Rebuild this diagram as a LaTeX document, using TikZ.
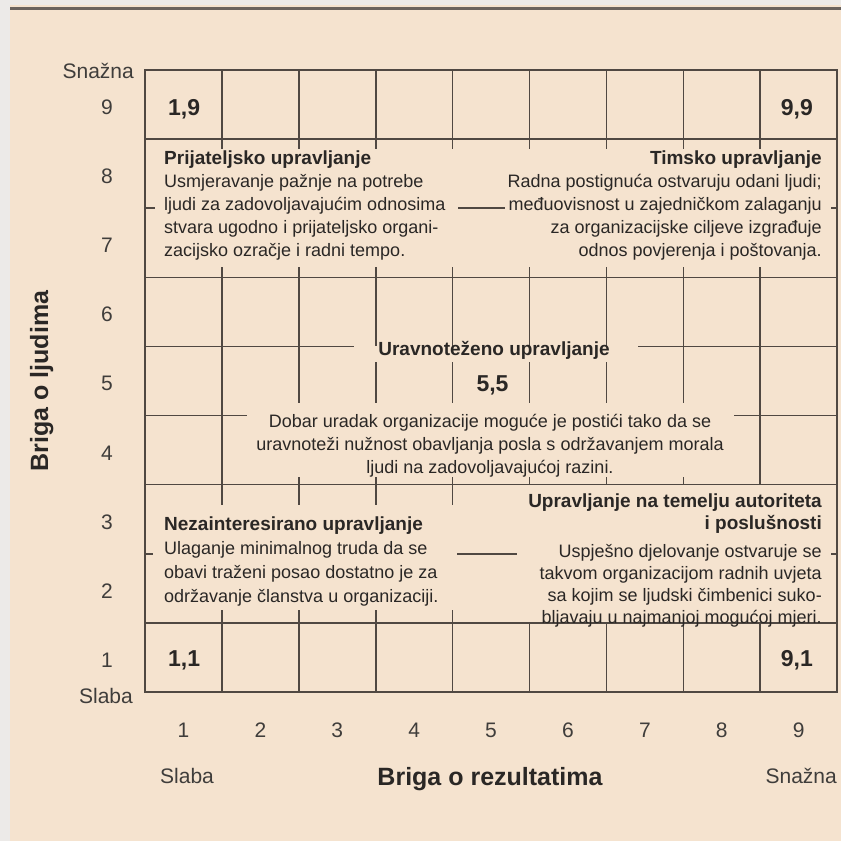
\documentclass[tikz,border=0pt]{standalone}
\usepackage{fontspec}
\setmainfont{Liberation Sans}
\definecolor{paper}{HTML}{F5E3CF}
\definecolor{frame}{HTML}{ECEAE8}
\definecolor{rule}{HTML}{504842}
\definecolor{ink}{HTML}{2A2725}
% column and row positions of the grid (in px)
\newcommand{\cx}[1]{145+76.9*#1}
\newcommand{\ry}[1]{70+69.1*#1}
\newcommand{\boxhead}[1]{{\bfseries\fontsize{19}{23}\selectfont #1}}
\begin{document}
\begin{tikzpicture}[x=1pt, y=-1pt,
    cellline/.style={draw=rule, line width=1.6pt},
    boxtext/.style={inner sep=0pt, text=ink, font=\fontsize{18}{23}\selectfont},
    corner/.style={inner sep=0pt, text=ink, font=\bfseries\fontsize{23}{28}\selectfont},
    axisnum/.style={inner sep=0pt, text=ink!90, font=\fontsize{21}{25}\selectfont},
    axistitle/.style={inner sep=0pt, text=ink, font=\bfseries\fontsize{25}{30}\selectfont}]
	\useasboundingbox (0,0) rectangle (841,841);
	\fill[frame] (0,0) rectangle (841,841);
	\fill[paper] (10,5) rectangle (841,841);
	\fill[rule!85] (10,7) rectangle (841,10);

	% grid
	\draw[cellline] ({\cx0},{\ry0}) rectangle ({\cx9},{\ry9});
	\foreach \j in {1,3,6,8}
		\draw[cellline] ({\cx0},{\ry\j}) -- ({\cx9},{\ry\j});
	\foreach \i in {1,...,8} {
		\draw[cellline] ({\cx\i},{\ry0}) -- ({\cx\i},{\ry1});
		\draw[cellline] ({\cx\i},{\ry3}) -- ({\cx\i},{\ry4});
		\draw[cellline] ({\cx\i},{\ry8}) -- ({\cx\i},{\ry9});
		\draw[cellline] ({\cx\i},{\ry1}) -- ++(0,10);
		\draw[cellline] ({\cx\i},{\ry3}) -- ++(0,-10);
	}
	\foreach \i in {1,8}
		\draw[cellline] ({\cx\i},{\ry4}) -- ({\cx\i},{\ry6});
	\foreach \i in {2,7}
		\draw[cellline] ({\cx\i},{\ry4}) -- ({\cx\i},403);
	\foreach \i in {3,...,6}
		\draw[cellline] ({\cx\i},362) -- ({\cx\i},403);
	\foreach \i in {2,...,7}
		\draw[cellline] ({\cx\i},{\ry6}) -- ++(0,-8);
	\foreach \i in {1,...,4} {
		\draw[cellline] ({\cx\i},{\ry6}) -- ++(0,20);
		\draw[cellline] ({\cx\i},{\ry8}) -- ++(0,-13);
	}
	\draw[cellline] ({\cx0},{\ry4}) -- (354,{\ry4}) (638,{\ry4}) -- ({\cx9},{\ry4});
	\draw[cellline] ({\cx0},{\ry5}) -- (247,{\ry5}) (734,{\ry5}) -- ({\cx9},{\ry5});
	\draw[cellline] ({\cx0},{\ry2}) -- ++(10,0) (458,{\ry2}) -- (505,{\ry2}) ({\cx9},{\ry2}) -- ++(-6,0);
	\draw[cellline] ({\cx0},{\ry7}) -- ++(8,0) (457,{\ry7}) -- (517,{\ry7}) ({\cx9},{\ry7}) -- ++(-6,0);

	% corner values
	\node[corner, anchor=base west] (c19) at (168,115) {1,9};
	\node[corner, anchor=base east] (c99) at (813,115) {9,9};
	\node[corner, anchor=base west] (c11) at (168,666) {1,1};
	\node[corner, anchor=base east] (c91) at (813,666) {9,1};
	\node[corner, anchor=base] (c55) at (492.5,391) {5,5};

	% styles of management
	\node[boxtext, anchor=north west, align=left] (friendly) at (164,151) {\boxhead{Prijateljsko upravljanje}\\
		Usmjeravanje pažnje na potrebe\\
		ljudi za zadovoljavajućim odnosima\\
		stvara ugodno i prijateljsko organi-\\
		zacijsko ozračje i radni tempo.};
	\node[boxtext, anchor=north east, align=right] (team) at (822,151) {\boxhead{Timsko upravljanje}\\
		Radna postignuća ostvaruju odani ljudi;\\
		međuovisnost u zajedničkom zalaganju\\
		za organizacijske ciljeve izgrađuje\\
		odnos povjerenja i poštovanja.};
	\node[boxtext, anchor=base, font=\bfseries\fontsize{19}{23}\selectfont] (middle) at (494,355) {Uravnoteženo upravljanje};
	\node[boxtext, anchor=north, align=center] (middletext) at (490,413.6) {Dobar uradak organizacije moguće je postići tako da se\\
		uravnoteži nužnost obavljanja posla s održavanjem morala\\
		ljudi na zadovoljavajućoj razini.};
	\node[boxtext, anchor=north west, align=left, font=\fontsize{18}{24}\selectfont] (careless) at (164,516.5) {\boxhead{Nezainteresirano upravljanje}\\
		Ulaganje minimalnog truda da se\\
		obavi traženi posao dostatno je za\\
		održavanje članstva u organizaciji.};
	\node[boxtext, anchor=north east, align=right, font=\bfseries\fontsize{19}{22}\selectfont] (authority) at (822,494) {Upravljanje na temelju autoriteta\\
		i poslušnosti};
	\node[boxtext, anchor=north east, align=right, font=\fontsize{18}{21.7}\selectfont] (authoritytext) at (822,544.6) {Uspješno djelovanje ostvaruje se\\
		takvom organizacijom radnih uvjeta\\
		sa kojim se ljudski čimbenici suko-\\
		bljavaju u najmanjoj mogućoj mjeri.};

	% axes
	\foreach \k in {1,...,9} {
		\node[axisnum, anchor=base] (ynum\k) at (107,{\ry{(9.5-\k)}+10}) {\k};
		\node[axisnum, anchor=base] (xnum\k) at ({\cx{(\k-0.5)}},737) {\k};
	}
	\node[axisnum, anchor=base east] (ystrong) at (134,78) {Snažna};
	\node[axisnum, anchor=base east] (yweak) at (133,703) {Slaba};
	\node[axisnum, anchor=base west] (xweak) at (160,783) {Slaba};
	\node[axisnum, anchor=base east] (xstrong) at (837,783) {Snažna};
	\node[axistitle, anchor=base] (xtitle) at (490,785) {Briga o rezultatima};
	\node[axistitle, anchor=base, rotate=90] (ytitle) at (48,381) {Briga o ljudima};
\end{tikzpicture}
\end{document}
